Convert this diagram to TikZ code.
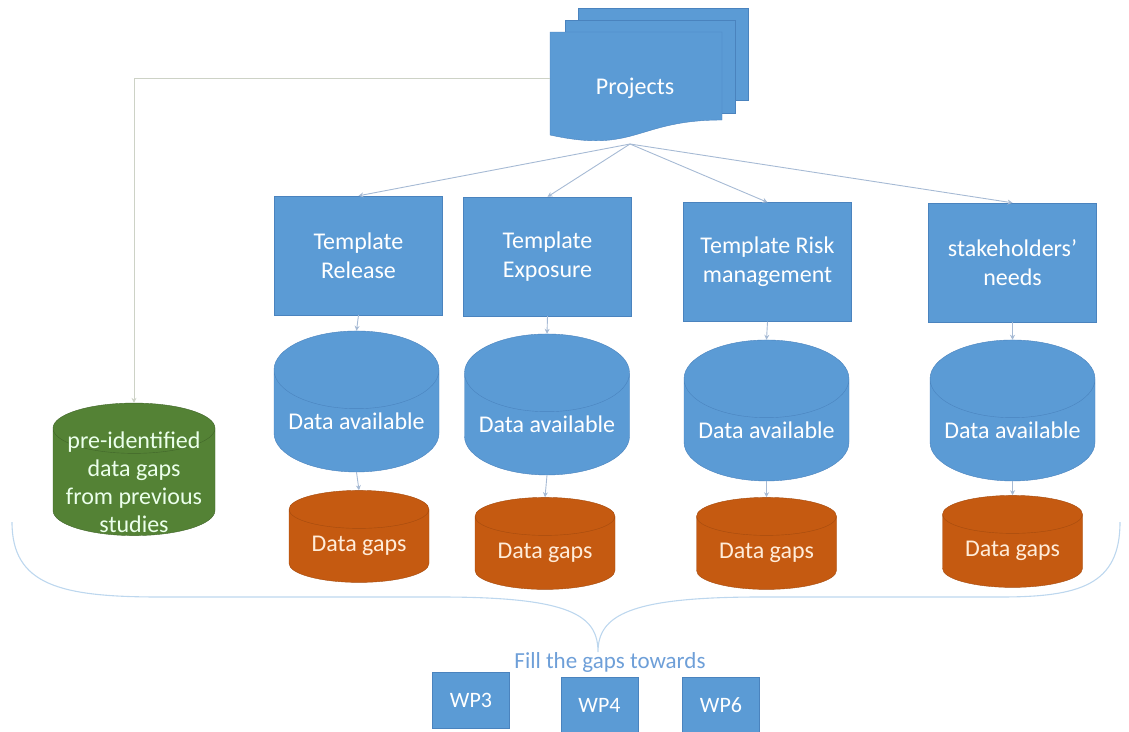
\documentclass[tikz,border=0pt]{standalone}
\usepackage{fontspec}
\setmainfont{Carlito}
\usetikzlibrary{shapes.geometric,arrows.meta}

\definecolor{sheetblue}{HTML}{5B9BD5}
\definecolor{sheetedge}{HTML}{4A83BE}
\definecolor{gaporange}{HTML}{C55A11}
\definecolor{gapedge}{HTML}{A54B0E}
\definecolor{oldgreen}{HTML}{548235}
\definecolor{oldedge}{HTML}{41662A}
\definecolor{linkgray}{HTML}{A6BAD4}
\definecolor{leftgray}{HTML}{CDD2C6}
\definecolor{bracecol}{HTML}{BDD7EE}
\definecolor{filltext}{HTML}{6E9FD8}

\begin{document}
\begin{tikzpicture}
[x=1pt, y=-1pt,
  templatebox/.style={rectangle, fill=sheetblue, draw=sheetedge, text=white,
    align=center, inner sep=0pt, minimum width=168pt, minimum height=119pt,
    font=\fontsize{24}{29}\selectfont},%
  wpbox/.style={rectangle, fill=sheetblue, draw=sheetedge, text=white,
    inner sep=0pt, minimum width=77pt, minimum height=56pt,
    font=\fontsize{22}{26}\selectfont},%
  availdb/.style={cylinder, shape border rotate=90, aspect=0.57,
    fill=sheetblue, draw=sheetedge, text=white, inner sep=0pt,
    minimum width=165pt, minimum height=141pt,
    font=\fontsize{24}{29}\selectfont},%
  gapdb/.style={cylinder, shape border rotate=90, aspect=0.4,
    fill=gaporange, draw=gapedge, text=orange!15, inner sep=0pt,
    minimum width=140pt, minimum height=92pt,
    font=\fontsize{24}{29}\selectfont},%
  linkdecorate/.style={-{Stealth[length=5pt,width=5pt]}, draw=linkgray, line width=0.9pt}]
\useasboundingbox (0,0) rectangle (1129,731);

%% stacked project sheets
\filldraw[fill=sheetblue, draw=sheetedge] (578,8) rectangle (748,100);
\filldraw[fill=sheetblue, draw=sheetedge] (565,20) rectangle (735,113);
\filldraw[fill=sheetblue, draw=sheetedge] (550,32) -- (722,32) -- (722,120)
  .. controls (636,120) and (636,154) .. (550,135) -- cycle;
\node (projects) at (635,88) [text=white, font=\fontsize{24}{29}\selectfont] {Projects};
\coordinate (fan) at (630,144);
\coordinate (projleft) at (550,78);
\coordinate (corner) at (134,78);

%% templates
\foreach \nodename/\x/\y/\words in {release/358.5/255.5/{Template\\Release},
  exposure/547.5/256.5/{Template\\Exposure},
  risk/767.5/262/{Template Risk\\management},
  needs/1012.5/262.5/{stakeholders'\\needs}}
{
  \node (\nodename) at (\x,\y) [templatebox] {\words};
}

%% data available and data gaps
\foreach \nodename/\x/\y in {release/356.5/421, exposure/547/424,
  risk/766.5/430, needs/1012.5/430}
{
  \node (avail-\nodename) at (\x,\y) [availdb] {Data available};
}
\foreach \nodename/\x/\y in {release/359/546, exposure/545/553,
  risk/766.5/553, needs/1012.5/551}
{
  \node (gaps-\nodename) at (\x,\y) [gapdb] {Data gaps};
}

\node (previous) at (134,482) [cylinder, shape border rotate=90, aspect=0.37,
  fill=oldgreen, draw=oldedge, text=green!8, inner xsep=0pt, inner ysep=-22pt,
  align=center, minimum width=162pt, minimum height=132pt,
  font=\fontsize{24}{28}\selectfont] {pre-identified\\data gaps\\from previous\\studies};

%% edges
\draw[draw=leftgray, line width=0.9pt, -{Stealth[length=5pt,width=5pt]}]
  (projleft) -- (corner) -- (previous.north);
\path
\foreach \nodename in {release, exposure, risk, needs} {
  (fan) edge[linkdecorate] (\nodename.north)
  (\nodename.south) edge[linkdecorate] (avail-\nodename.north)
  (avail-\nodename.south) edge[linkdecorate] (gaps-\nodename.north)
};

%% brace and work packages
\coordinate (braceleft) at (12,522);
\coordinate (bracetip) at (598,652);
\coordinate (braceright) at (1120,522);
\draw[draw=bracecol, line width=1.1pt] (braceleft)
  .. controls (12,585) and (60,597) .. (160,597) -- (440,597)
  .. controls (570,597) and (598,615) .. (bracetip)
  .. controls (598,615) and (630,597) .. (760,597) -- (1000,597)
  .. controls (1080,597) and (1120,585) .. (braceright);
\node (fill) at (610,662) [text=filltext, font=\fontsize{23}{27}\selectfont] {Fill the gaps towards};
\foreach \nodename/\x/\y/\words in {wpthree/471/700.5/WP3, wpfour/599.5/705/WP4,
  wpsix/721/705/WP6}
{
  \node (\nodename) at (\x,\y) [wpbox] {\words};
}
\end{tikzpicture}
\end{document}
